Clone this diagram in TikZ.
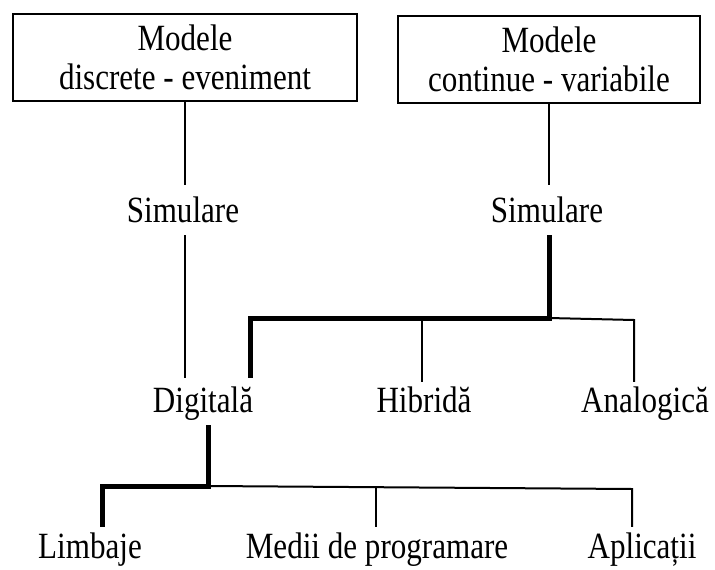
\documentclass[tikz,border=0pt]{standalone}
\usepackage{fontspec}
\setmainfont{Liberation Serif}[FakeStretch=0.84]
\begin{document}
\begin{tikzpicture}[x=1pt,y=-1pt,
  lbl/.style={font=\fontsize{37}{39}\selectfont, inner sep=0pt, anchor=base,
              text height=25pt, text depth=8pt},
  model/.style={draw, line width=2.6pt, inner sep=0pt, align=center,
                font=\fontsize{37}{39}\selectfont},
  link/.style={line width=2pt},
  mainlink/.style={line width=5pt, line join=miter}]
\useasboundingbox (0,0) rectangle (715,570);

% model classes
\node[model, minimum width=344pt, minimum height=87pt] (m1) at (185,57.5)
  {Modele\\discrete - eveniment};
\node[model, minimum width=302pt, minimum height=87pt] (m2) at (549,59.5)
  {Modele\\continue - variabile};

% labels
\node[lbl] (s1) at (183,222) {Simulare};
\node[lbl] (s2) at (547,222) {Simulare};
\node[lbl] (dig) at (203,412) {Digitală};
\node[lbl] (hib) at (424,412) {Hibridă};
\node[lbl] (ana) at (645,412) {Analogică};
\node[lbl] (lim) at (90,558) {Limbaje};
\node[lbl] (med) at (377,558) {Medii de programare};
\node[lbl] (apl) at (642,558) {Aplicații};

% branch points
\coordinate (br1) at (549,318);
\coordinate (br1l) at (250,318);
\coordinate (br1r) at (634,320);
\coordinate (br1m) at (422,318);
\coordinate (br2) at (208,486);
\coordinate (br2l) at (102,486);
\coordinate (br2r) at (632,489);
\coordinate (br2m) at (376,487);

% discrete-event branch
\draw[link] (m1.south) -- ([yshift=12pt]m1.south |- s1.north);
\draw[link] ([yshift=-5pt]m1.south |- s1.south) -- ([yshift=9pt]m1.south |- dig.north);

% continuous-variable branch
\draw[link] (m2.south) -- ([yshift=12pt]m2.south |- s2.north);
\draw[mainlink] ([yshift=-5pt]m2.south |- s2.south) -- (br1) -- (br1l)
  -- ([yshift=9pt]br1l |- dig.north);
\draw[link] (br1) -- (br1r) -- ([yshift=5pt]br1r |- ana.north);
\draw[link] (br1m) -- ([yshift=5pt]br1m |- hib.north);

% digital simulation
\draw[mainlink] ([yshift=-5pt]br2 |- dig.south) -- (br2) -- (br2l)
  -- ([yshift=6pt]br2l |- lim.north);
\draw[link] (br2) -- (br2r) -- ([yshift=6pt]br2r |- apl.north);
\draw[link] (br2m) -- ([yshift=6pt]br2m |- med.north);
\end{tikzpicture}
\end{document}
